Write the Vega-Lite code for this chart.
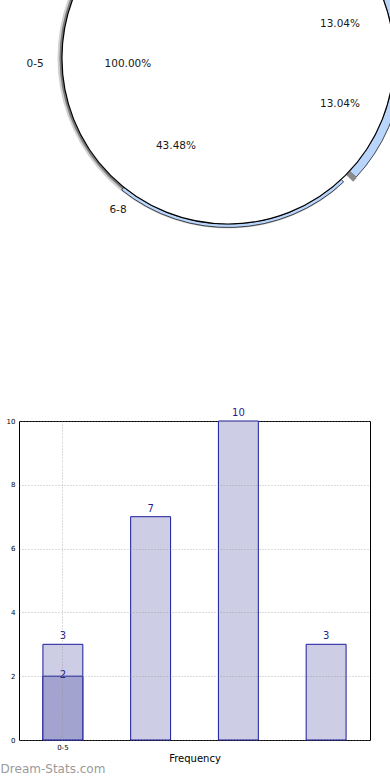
{
  "$schema": "https://vega.github.io/schema/vega-lite/v6.json",
  "padding": {"left": 0, "top": 0, "right": 0, "bottom": 0},
  "background": "white",
  "config": {"font": "DejaVu Sans"},
  "title": {"text": "Dream-Stats.com", "orient": "bottom", "anchor": "start", "frame": "bounds", "color": "#9a9a9a", "fontSize": 12, "font": "DejaVu Sans", "fontWeight": "normal", "offset": 0, "dx": -5},
  "datasets": {
    "pie": [{"slice": "0-5", "share": 100}],
    "pieLabels": [
      {"label": "13.04%", "angle": 73.1, "dist": 0.705},
      {"label": "13.04%", "angle": 112.3, "dist": 0.729},
      {"label": "100.00%", "angle": 266.6, "dist": 0.604},
      {"label": "43.48%", "angle": 210.6, "dist": 0.616},
      {"label": "0-5", "angle": 268.2, "dist": 1.163},
      {"label": "6-8", "angle": 215.9, "dist": 1.13}
    ],
    "bars": [
      {"interval": "0-5", "count": 3, "series": "total"},
      {"interval": "5-6", "count": 7, "series": "total"},
      {"interval": "6-8", "count": 10, "series": "total"},
      {"interval": "8-10", "count": 3, "series": "total"},
      {"interval": "0-5", "count": 2, "series": "sub"}
    ]
  },
  "vconcat": [
    {
      "width": 371,
      "height": 240,
      "view": {"stroke": null},
      "encoding": {
        "x": {"datum": 0, "type": "quantitative", "scale": {"domain": [-1, 1], "range": [43, 375]}, "axis": null},
        "y": {"datum": 0, "type": "quantitative", "scale": {"domain": [-1, 1], "range": [-108, 224]}, "axis": null}
      },
      "layer": [
        {"data": {"name": "pie"}, "mark": {"type": "arc", "theta": 2.443, "theta2": 6.632, "innerRadius": 166, "outerRadius": 170.5, "fill": "#d0d0d0", "clip": true}},
        {"data": {"name": "pie"}, "mark": {"type": "arc", "theta": 2.443, "theta2": 6.632, "innerRadius": 166, "outerRadius": 168.5, "fill": "#7a7a7a", "clip": true}},
        {"data": {"name": "pie"}, "mark": {"type": "arc", "theta": 2.391, "theta2": 3.82, "innerRadius": 166, "outerRadius": 169.5, "fill": "#b9d5fb", "stroke": "#000", "strokeWidth": 0.7, "clip": true}},
        {"data": {"name": "pie"}, "mark": {"type": "arc", "theta": 0.96, "theta2": 2.321, "innerRadius": 166, "outerRadius": 175, "fill": "#b9d5fb", "stroke": "#000", "strokeWidth": 0.7, "clip": true}},
        {"data": {"name": "pie"}, "mark": {"type": "arc", "theta": 2.321, "theta2": 2.35, "innerRadius": 166, "outerRadius": 176, "fill": "#8a8a8a", "clip": true}},
        {"data": {"name": "pie"}, "mark": {"type": "arc", "outerRadius": 166, "fill": "#ffffff", "stroke": "#000", "strokeWidth": 1.2, "clip": true},
          "encoding": {"theta": {"field": "share", "type": "quantitative", "stack": true}}},
        {"data": {"name": "pieLabels"}, "mark": {"type": "text", "fontSize": 10.5, "color": "#1a1a1a", "align": "center", "baseline": "middle"},
          "encoding": {
            "text": {"field": "label"},
            "theta": {"field": "angle", "type": "quantitative", "stack": null, "scale": {"domain": [0, 360], "range": [0, 6.2832]}},
            "radius": {"field": "dist", "type": "quantitative", "scale": {"type": "linear", "domain": [0, 1], "range": [0, 166], "zero": true}}
          }}
      ],
      "resolve": {"scale": {"theta": "independent"}}
    },
    {
      "width": 351,
      "height": 319,
      "view": {"stroke": "#000", "strokeWidth": 1},
      "data": {"name": "bars"},
      "encoding": {
        "x": {"field": "interval", "type": "nominal",
          "scale": {"domain": ["0-5", "5-6", "6-8", "8-10"], "paddingInner": 0.545, "paddingOuter": 0.2725},
          "axis": {"title": "Frequency", "values": ["0-5"], "labelAngle": 0, "labelFontSize": 7, "labelColor": "#000", "labelPadding": 3, "ticks": false, "domain": false,
            "grid": true, "gridDash": [1, 2], "gridColor": "#888888", "gridOpacity": 0.6, "zindex": 1,
            "titleFontSize": 10, "titleFontWeight": "normal", "titleColor": "#000", "titlePadding": 3}},
        "y": {"field": "count", "type": "quantitative",
          "scale": {"domain": [0, 10], "nice": false},
          "axis": {"title": null, "values": [0, 2, 4, 6, 8, 10], "labelFontSize": 7, "labelColor": "#000", "labelPadding": 4, "ticks": false, "domain": false,
            "grid": true, "gridDash": [1, 2], "gridColor": "#888888", "gridOpacity": 0.6, "zindex": 1}}
      },
      "layer": [
        {"transform": [{"filter": "datum.series == 'total'"}], "mark": {"type": "bar", "fill": "#cdcde5", "stroke": "#1a1a9a", "strokeWidth": 1}},
        {"transform": [{"filter": "datum.series == 'sub'"}], "mark": {"type": "bar", "fill": "#a3a3cf", "stroke": "#1a1a9a", "strokeWidth": 1}},
        {"transform": [{"filter": "datum.series == 'total'"}], "mark": {"type": "text", "baseline": "bottom", "dy": -3, "fontSize": 10, "color": "#1f1f8f"},
          "encoding": {"text": {"field": "count"}}},
        {"transform": [{"filter": "datum.series == 'sub'"}], "mark": {"type": "text", "baseline": "middle", "dy": -1, "fontSize": 10, "color": "#1f1f8f"},
          "encoding": {"text": {"field": "count"}}}
      ]
    }
  ],
  "bounds": "flush",
  "spacing": 181
}
